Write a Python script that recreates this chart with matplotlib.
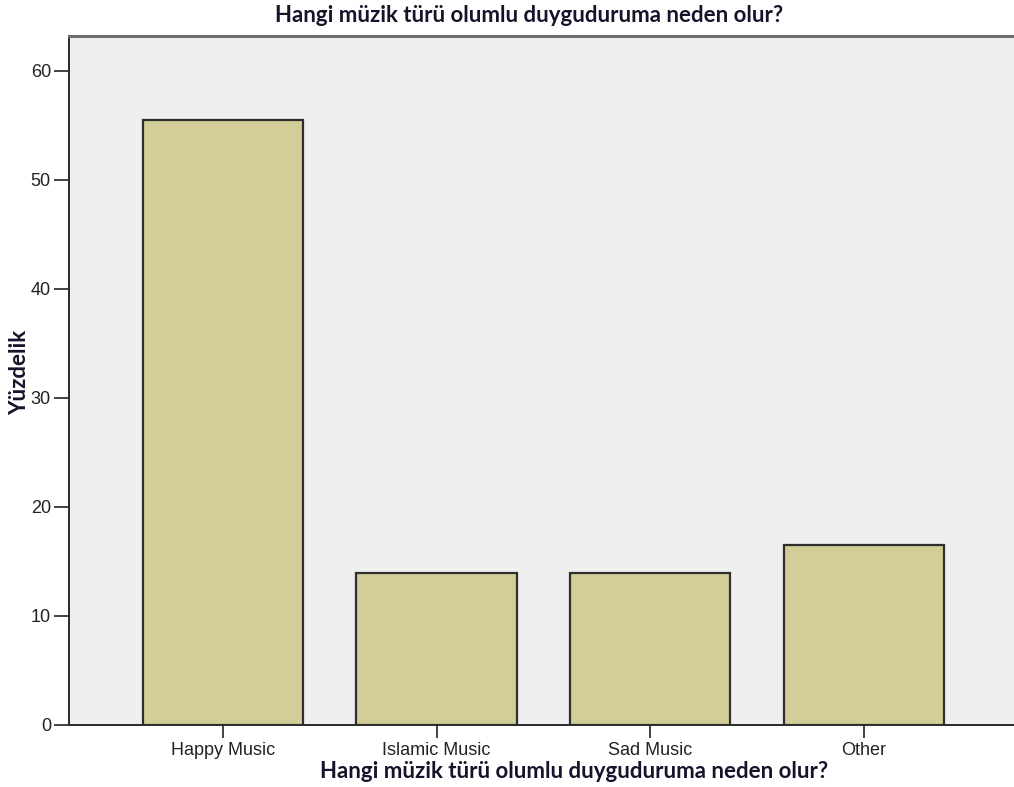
import matplotlib
matplotlib.use("Agg")
import matplotlib.pyplot as plt

categories = ["Happy Music", "Islamic Music", "Sad Music", "Other"]
percent = [55.5, 13.9, 13.9, 16.5]
title = "Hangi müzik türü olumlu duyguduruma neden olur?"
y_ticks = [0, 10, 20, 30, 40, 50, 60]

fig = plt.figure(figsize=(10.14, 7.87), dpi=100)
ax = fig.add_axes([0.068, 0.0788, 0.935, 0.8755])
ax.set_facecolor("#efefef")

x = range(len(categories))
ax.bar(x, percent, width=0.75, color="#d3ce97", edgecolor="#2e2e2e", linewidth=1.6, zorder=3)

ax.set_xlim(-0.72, 3.716)
ax.set_ylim(0, 63.2)
ax.set_yticks(y_ticks)
ax.set_xticks(list(x))
ax.set_xticklabels(categories, fontfamily="Liberation Sans", fontsize=13, color="#222222")
for lab in ax.get_yticklabels():
    lab.set_fontfamily("Liberation Sans")
    lab.set_fontsize(13)
    lab.set_color("#222222")
ax.tick_params(axis="y", length=11, width=1.2, color="#222222", pad=2)
ax.tick_params(axis="x", length=9, width=1.2, color="#222222", pad=3)

ax.spines["right"].set_visible(False)
ax.spines["top"].set_color("#6e6e6e")
ax.spines["top"].set_linewidth(2.2)
for s in ("left", "bottom"):
    ax.spines[s].set_color("#2a2a2a")
    ax.spines[s].set_linewidth(1.4)

font_bold = dict(fontfamily="Lato", fontweight="bold", fontsize=16, color="#14142a")
fig.text(0.522, 0.980, title, ha="center", va="center", **font_bold)
fig.text(0.566, 0.020, title, ha="center", va="center", **font_bold)
fig.text(0.019, 0.527, "Yüzdelik", ha="center", va="center", rotation=90, **font_bold)

fig.savefig("out.png", dpi=100)
